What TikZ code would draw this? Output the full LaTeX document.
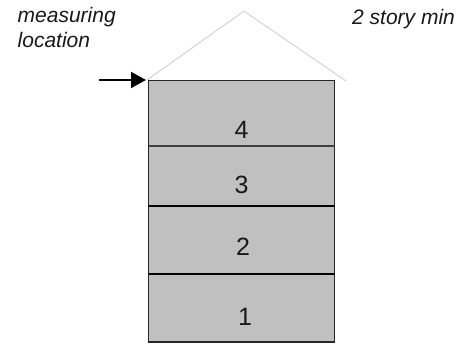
\documentclass[tikz,border=0pt]{standalone}
\usepackage{fontspec}
\setmainfont{Liberation Sans}
\usetikzlibrary{arrows.meta}
\definecolor{floorgray}{RGB}{192,192,192}
\definecolor{roofgray}{RGB}{212,212,212}
\tikzset{x=1pt,y=-1pt,
  floorbox/.style={draw=black!85,line width=1.7pt,fill=floorgray},
  thickdiv/.style={draw=black,line width=2.7pt},
  thindiv/.style={draw=black!75,line width=1.7pt},
  roofline/.style={draw=roofgray,line width=1pt},
  num/.style={font=\fontsize{25}{27}\selectfont,inner sep=0pt,text=black!90},
  note/.style={font=\itshape\fontsize{21}{25.5}\selectfont,inner sep=0pt,text=black!90}}
\begin{document}
\begin{tikzpicture}
\useasboundingbox (0,0) rectangle (461,344);
\fill[white] (0,0) rectangle (461,344);
\coordinate (roofL) at (147,80);
\coordinate (roofT) at (244,11);
\coordinate (roofR) at (346,81);
\draw[roofline] (roofL) -- (roofT) -- (roofR);
\draw[floorbox] (148.5,80.5) rectangle (334.5,342);
\draw[thindiv] (148.5,146) -- (334.5,146);
\draw[thickdiv] (148.5,206) -- (334.5,206);
\draw[thickdiv] (148.5,274) -- (334.5,274);
\node[num] (f4) at (241.7,130) {4};
\node[num] (f3) at (241.7,185) {3};
\node[num] (f2) at (243,247) {2};
\node[num] (f1) at (245,317) {1};
\node[note,anchor=base west] (loc1) at (17.5,23) {measuring};
\node[note,anchor=base west] (loc2) at (17.5,48) {location};
\node[note,anchor=base west] (min) at (352,25) {2 story min};
\coordinate (arrowStart) at (99,80);
\draw[-{Triangle[length=15pt,width=16pt]},line width=1.7pt,black,shorten >=1pt] (arrowStart) -- (roofL);
\end{tikzpicture}
\end{document}
